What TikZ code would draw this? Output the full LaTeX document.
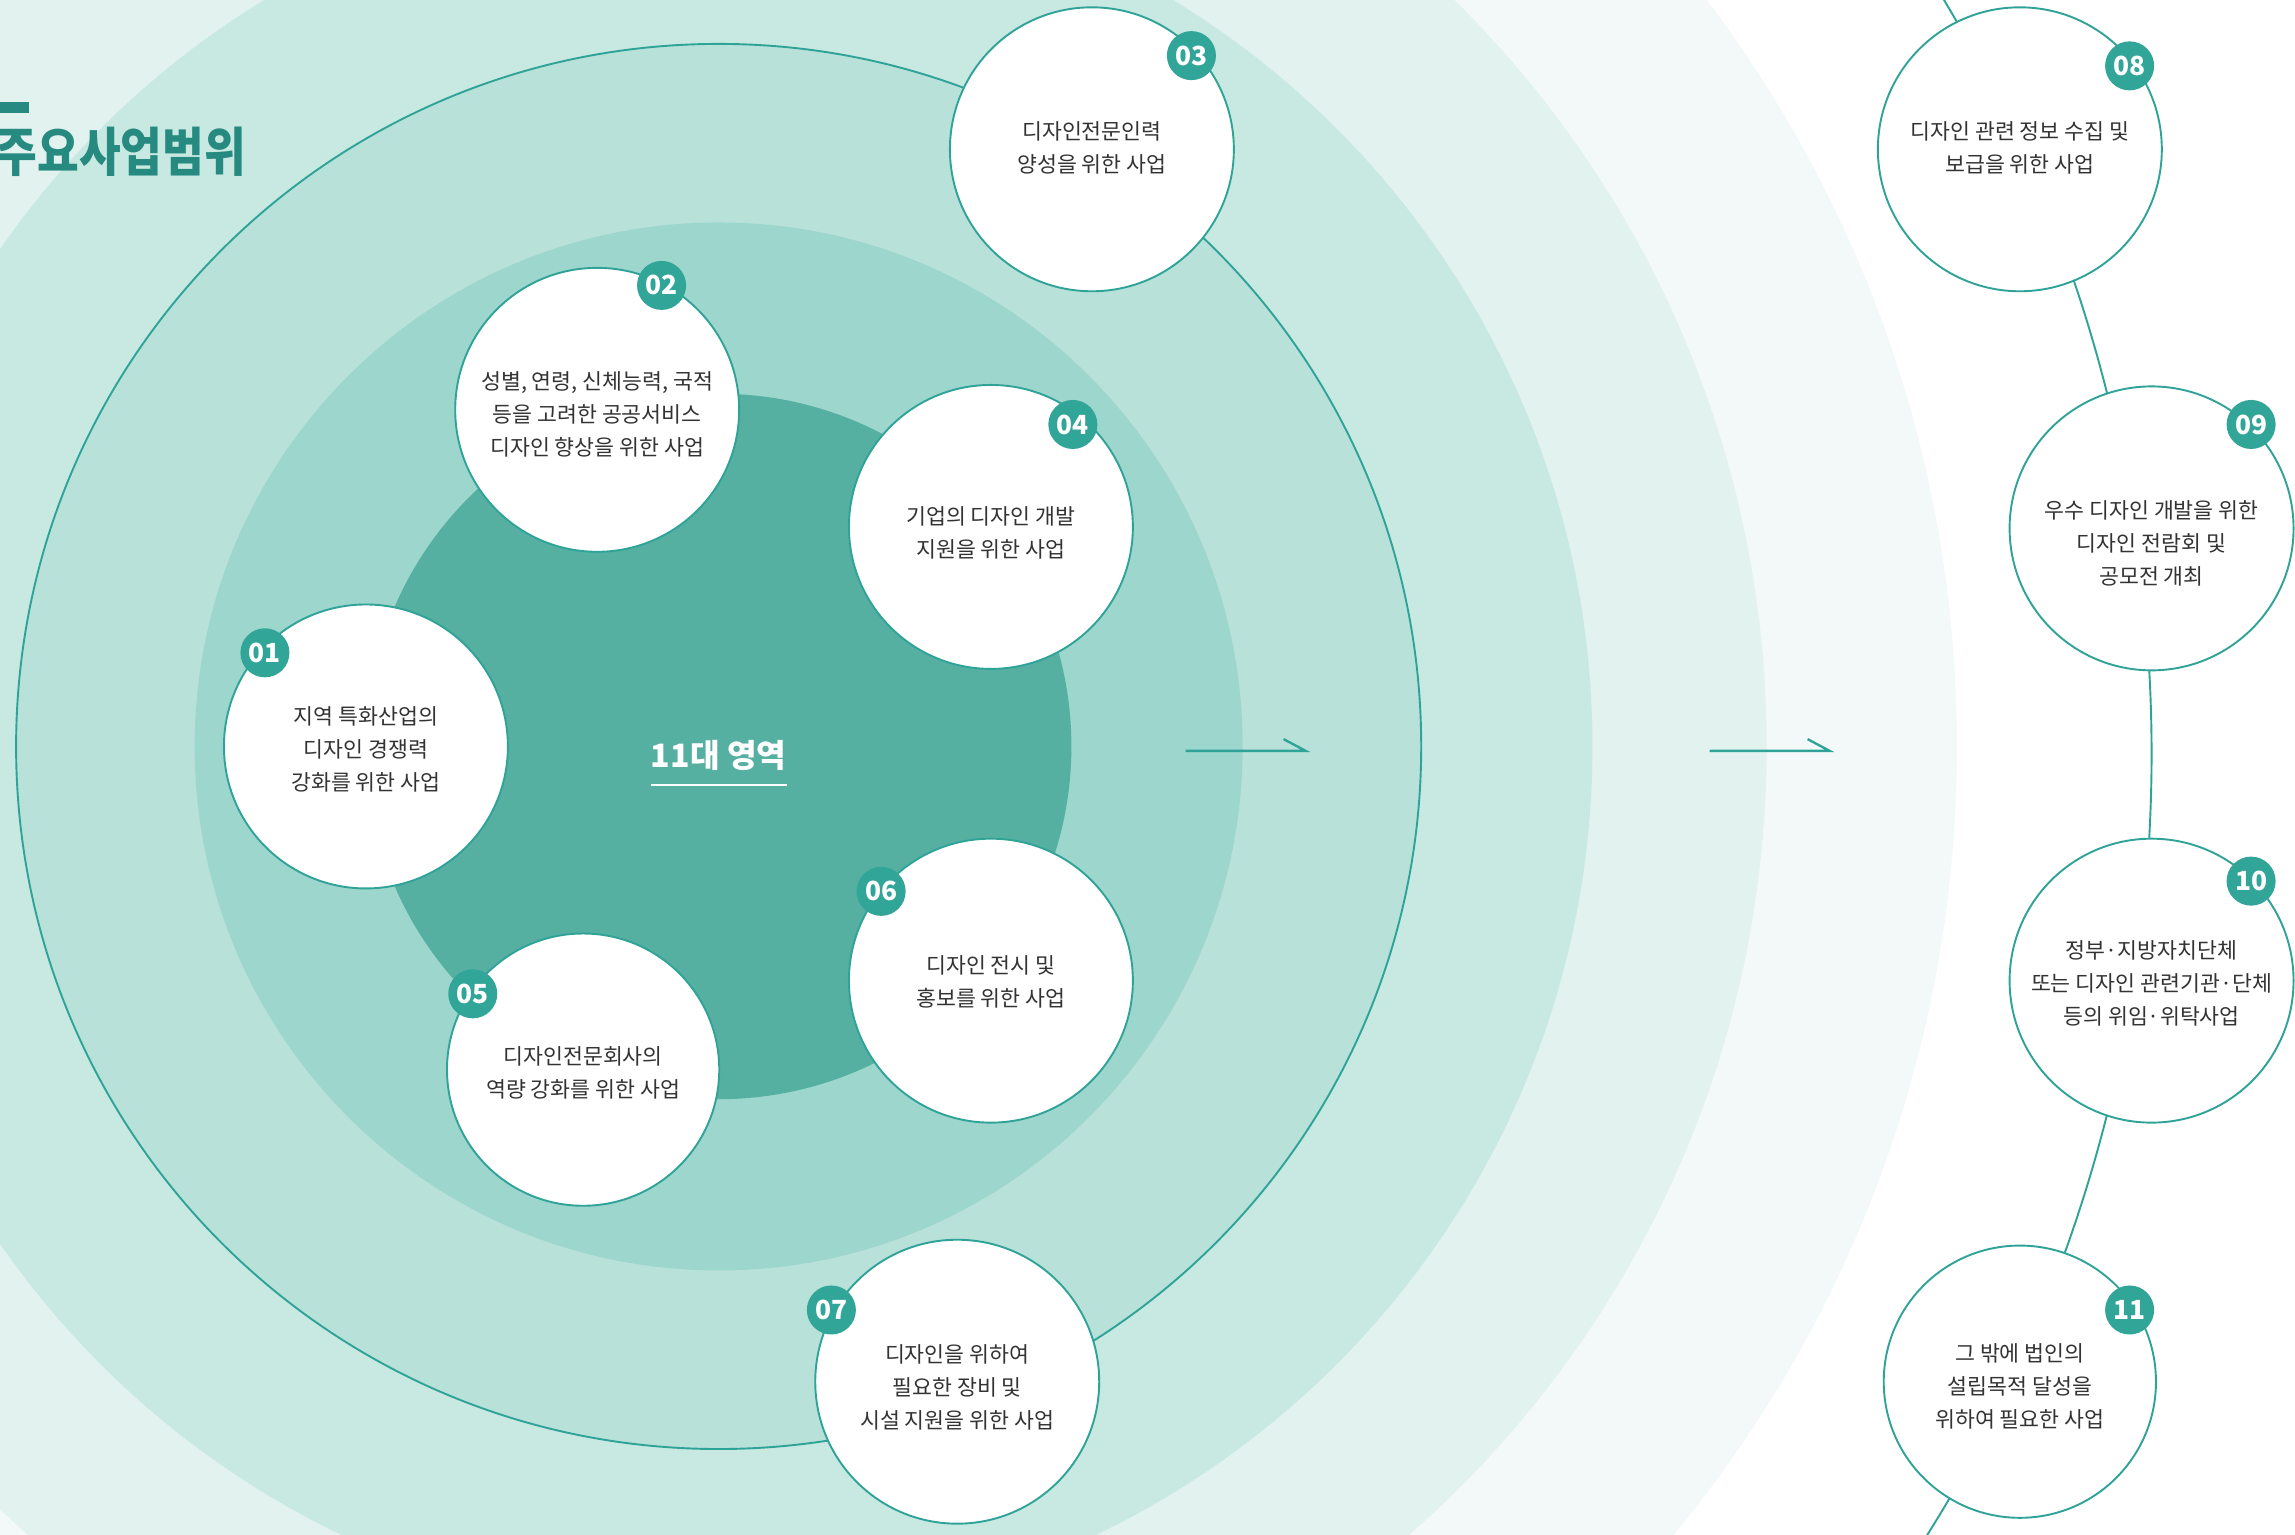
\documentclass[tikz,border=0pt]{standalone}
\usepackage{fontspec}
\setmainfont{Noto Sans CJK KR}
\usetikzlibrary{calc}
\definecolor{ringF}{HTML}{F2F9F8}
\definecolor{ringE}{HTML}{E1F2EF}
\definecolor{ringD}{HTML}{C7E9E2}
\definecolor{ringC}{HTML}{B8E1DA}
\definecolor{ringB}{HTML}{9DD6CD}
\definecolor{ringA}{HTML}{55B0A2}
\definecolor{tealline}{HTML}{2FA397}
\definecolor{badgeteal}{HTML}{30A598}
\definecolor{titleteal}{HTML}{268A80}
\definecolor{txtgray}{HTML}{333333}
\newcommand\mytxt[2][0pt]{\raisebox{#1}[\height][\depth]{\begin{tabular}{@{}c@{}}#2\end{tabular}}}
\begin{document}
\begin{tikzpicture}[x=1pt,y=-1pt,
  item/.style={circle, draw=tealline, line width=1.3pt, fill=white, minimum size=194pt,
    inner sep=0pt, text=txtgray, font=\fontsize{14.8}{22.5}\selectfont},
  smallitem/.style={item, minimum size=186pt},
  badge/.style={circle, fill=badgeteal, minimum size=33.5pt, inner sep=0pt, text=white,
    font=\bfseries\fontsize{18}{18}\selectfont},
  arrowline/.style={draw=tealline, line width=1.6pt},
  ringline/.style={draw=tealline, line width=1.3pt}]
\useasboundingbox (0,0) rectangle (1568,1048.7);
\fill[white] (0,0) rectangle (1568,1048.7);
\coordinate (C) at (491,510);
\coordinate (K) at (465,515);
% concentric rings
\fill[ringF] (C) circle[radius=846pt];
\fill[ringE] (C) circle[radius=716pt];
\fill[ringD] (C) circle[radius=597pt];
\fill[ringC] (C) circle[radius=480pt];
\draw[ringline] (C) circle[radius=480pt];
\fill[ringB] (C) circle[radius=358pt];
\fill[ringA] (C) circle[radius=241pt];
% chain arc for the right column
\draw[ringline] (K) circle[radius=1005pt];
% title
\fill[titleteal] (0,70) rectangle (20,77);
\node[anchor=west, inner sep=0pt, text=titleteal, font=\bfseries\fontsize{36}{36}\selectfont] (title) at (-3,104) {\scalebox{0.86}[1]{주요사업범위}};
% centre label
\node[inner sep=0pt, text=white, font=\bfseries\fontsize{22}{22}\selectfont] (core) at (491,516) {11대 영역};
\draw[white, line width=1.2pt] ($(core.south west)+(0,10)$) -- ($(core.south east)+(0,10)$);
% arrows
\coordinate (a1s) at (810,513); \coordinate (a1e) at (892,513); \coordinate (a1b) at (877,505);
\coordinate (a2s) at (1168,513); \coordinate (a2e) at (1250,513); \coordinate (a2b) at (1235,505);
\draw[arrowline] (a1s) -- (a1e) -- (a1b);
\draw[arrowline] (a2s) -- (a2e) -- (a2b);
% items
\node[item] (c01) at (250,510) {\mytxt[-3pt]{지역 특화산업의\\디자인 경쟁력\\강화를 위한 사업}};
\node[item] (c02) at (408,280) {\mytxt[-4pt]{성별, 연령, 신체능력, 국적\\등을 고려한 공공서비스\\디자인 향상을 위한 사업}};
\node[item] (c03) at (746,102) {\mytxt{디자인전문인력\\양성을 위한 사업}};
\node[item] (c04) at (677,360) {\mytxt[-5pt]{기업의 디자인 개발\\지원을 위한 사업}};
\node[smallitem] (c05) at (398.4,730.8) {\mytxt[-3pt]{디자인전문회사의\\역량 강화를 위한 사업}};
\node[item] (c06) at (677,670) {\mytxt[-2pt]{디자인 전시 및\\홍보를 위한 사업}};
\node[item] (c07) at (654,944) {\mytxt[-5pt]{디자인을 위하여\\필요한 장비 및\\시설 지원을 위한 사업}};
\node[item] (c08) at (1380,102) {\mytxt{디자인 관련 정보 수집 및\\보급을 위한 사업}};
\node[item] (c09) at (1470,361) {\mytxt[-11pt]{우수 디자인 개발을 위한\\디자인 전람회 및\\공모전 개최}};
\node[item] (c10) at (1470,670) {\mytxt[-3pt]{정부·지방자치단체\\또는 디자인 관련기관·단체\\등의 위임·위탁사업}};
\node[smallitem] (c11) at (1380,944) {\mytxt[-4pt]{그 밖에 법인의\\설립목적 달성을\\위하여 필요한 사업}};
% badges
\node[badge] (b01) at (181,446) {01};
\node[badge] (b02) at (452,195) {02};
\node[badge] (b03) at (814,38) {03};
\node[badge] (b04) at (733,290) {04};
\node[badge] (b05) at (323,679) {05};
\node[badge] (b06) at (602,609) {06};
\node[badge] (b07) at (568,895) {07};
\node[badge] (b08) at (1455,45) {08};
\node[badge] (b09) at (1538,290) {09};
\node[badge] (b10) at (1538,602) {10};
\node[badge] (b11) at (1455,895) {11};
\end{tikzpicture}
\end{document}
